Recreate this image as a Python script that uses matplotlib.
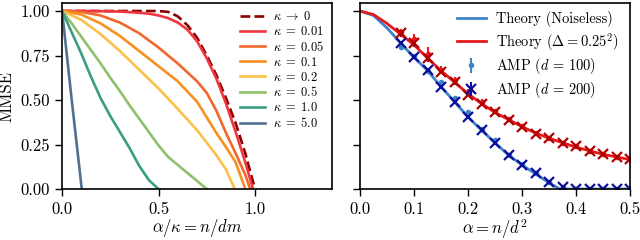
import numpy as np
import matplotlib
matplotlib.use('Agg')
import matplotlib.pyplot as plt

plt.rcParams['font.family'] = 'serif'
plt.rcParams['font.serif'] = ['cmr10']
plt.rcParams['mathtext.fontset'] = 'cm'
plt.rcParams['axes.formatter.use_mathtext'] = True
plt.rcParams['axes.unicode_minus'] = False

# left panel: MMSE vs alpha/kappa for several kappa
x_k0 = [0, 0.5, 0.55, 0.6, 0.65, 0.7, 0.75, 0.8, 0.85, 0.9, 0.95, 1.0]
y_k0 = [1, 1, 0.995, 0.97, 0.92, 0.85, 0.75, 0.64, 0.51, 0.37, 0.2, 0]

x_k001 = [0, 0.1, 0.2, 0.3, 0.4, 0.45, 0.5, 0.55, 0.6, 0.65, 0.7, 0.75, 0.8, 0.85, 0.9, 0.95, 0.99]
y_k001 = [1, 1.0, 0.999, 0.997, 0.99, 0.985, 0.975, 0.96, 0.935, 0.895, 0.83, 0.735, 0.62, 0.48, 0.32, 0.15, 0]

x_k005 = [0, 0.1, 0.2, 0.3, 0.4, 0.5, 0.6, 0.7, 0.75, 0.8, 0.85, 0.9, 0.95, 0.975]
y_k005 = [1, 0.995, 0.975, 0.935, 0.875, 0.795, 0.705, 0.605, 0.54, 0.44, 0.315, 0.2, 0.08, 0]

x_k01 = [0, 0.1, 0.2, 0.3, 0.4, 0.5, 0.6, 0.7, 0.8, 0.85, 0.9, 0.95]
y_k01 = [1, 0.98, 0.93, 0.86, 0.775, 0.69, 0.605, 0.49, 0.315, 0.235, 0.15, 0]

x_k02 = [0, 0.1, 0.2, 0.3, 0.4, 0.5, 0.6, 0.7, 0.8, 0.85, 0.895]
y_k02 = [1, 0.95, 0.87, 0.775, 0.67, 0.565, 0.45, 0.33, 0.19, 0.11, 0]

x_k05 = [0, 0.05, 0.1, 0.15, 0.2, 0.25, 0.3, 0.35, 0.4, 0.45, 0.5, 0.55, 0.6, 0.65, 0.7, 0.75]
y_k05 = [1, 0.93, 0.855, 0.78, 0.705, 0.625, 0.55, 0.47, 0.395, 0.32, 0.245, 0.18, 0.135, 0.09, 0.045, 0]

x_k1 = [0, 0.05, 0.1, 0.15, 0.2, 0.25, 0.3, 0.35, 0.4, 0.45, 0.5]
y_k1 = [1, 0.88, 0.76, 0.63, 0.51, 0.41, 0.32, 0.23, 0.13, 0.05, 0]

x_k5 = [0, 0.05, 0.102]
y_k5 = [1, 0.5, 0]

curves = [
    (x_k0, y_k0, r'$\kappa \;\to\; 0$', '#8b0000', '--'),
    (x_k001, y_k001, r'$\kappa \;=\; 0.01$', '#f0363e', '-'),
    (x_k005, y_k005, r'$\kappa \;=\; 0.05$', '#f2682c', '-'),
    (x_k01, y_k01, r'$\kappa \;=\; 0.1$', '#f7901e', '-'),
    (x_k02, y_k02, r'$\kappa \;=\; 0.2$', '#fcc048', '-'),
    (x_k05, y_k05, r'$\kappa \;=\; 0.5$', '#8fc06c', '-'),
    (x_k1, y_k1, r'$\kappa \;=\; 1.0$', '#3a9e84', '-'),
    (x_k5, y_k5, r'$\kappa \;=\; 5.0$', '#51708f', '-'),
]

# right panel: theory and AMP
alpha_th = [0, 0.025, 0.05, 0.075, 0.1, 0.125, 0.15, 0.175, 0.2, 0.225, 0.25, 0.275, 0.3, 0.325, 0.35, 0.37, 0.4, 0.45, 0.5]
mmse_noiseless = [1, 0.975, 0.905, 0.82, 0.74, 0.665, 0.575, 0.49, 0.405, 0.33, 0.26, 0.19, 0.135, 0.085, 0.035, 0, 0, 0, 0]
alpha_th_n = [0, 0.025, 0.05, 0.075, 0.1, 0.125, 0.15, 0.175, 0.2, 0.225, 0.25, 0.275, 0.3, 0.325, 0.35, 0.375, 0.4, 0.425, 0.45, 0.475, 0.5]
mmse_noisy = [1, 0.98, 0.93, 0.87, 0.81, 0.735, 0.665, 0.6, 0.535, 0.48, 0.43, 0.39, 0.35, 0.315, 0.285, 0.26, 0.235, 0.215, 0.195, 0.18, 0.165]

alpha_amp = [0.075, 0.1, 0.125, 0.15, 0.175, 0.2, 0.225, 0.25, 0.275, 0.3, 0.325, 0.35, 0.375, 0.4, 0.425, 0.45, 0.475, 0.5]
amp100_clean = [0.8, 0.745, 0.665, 0.6, 0.51, 0.43, 0.335, 0.275, 0.19, 0.14, 0.09, 0.04, 0.01, 0.0, 0.0, 0.0, 0.0, 0.0]
amp100_clean_err = [0.015, 0.015, 0.015, 0.015, 0.015, 0.01, 0.01, 0.01, 0.01, 0.01, 0.01, 0.01, 0.005, 0.003, 0.003, 0.003, 0.003, 0.003]
amp200_clean = [0.82, 0.74, 0.67, 0.575, 0.49, 0.405, 0.33, 0.26, 0.19, 0.135, 0.09, 0.04, 0.01, 0.0, 0.0, 0.0, 0.0, 0.0]
amp200_clean_err = [0.01, 0.01, 0.01, 0.01, 0.01, 0.008, 0.008, 0.008, 0.008, 0.008, 0.005, 0.005, 0.004, 0.003, 0.003, 0.003, 0.003, 0.003]
amp100_noisy = [0.88, 0.84, 0.76, 0.67, 0.61, 0.545, 0.49, 0.44, 0.395, 0.355, 0.315, 0.285, 0.26, 0.24, 0.215, 0.195, 0.18, 0.17]
amp100_noisy_err = [0.02, 0.03, 0.04, 0.02, 0.02, 0.015, 0.015, 0.01, 0.01, 0.01, 0.01, 0.01, 0.01, 0.01, 0.01, 0.01, 0.01, 0.01]
amp200_noisy = [0.875, 0.82, 0.735, 0.66, 0.6, 0.53, 0.48, 0.43, 0.39, 0.35, 0.31, 0.285, 0.26, 0.24, 0.215, 0.195, 0.18, 0.17]
amp200_noisy_err = [0.02, 0.02, 0.02, 0.015, 0.015, 0.015, 0.01, 0.01, 0.01, 0.01, 0.01, 0.01, 0.01, 0.01, 0.01, 0.01, 0.01, 0.01]

fig = plt.figure(figsize=(6.4, 2.4), dpi=100)
ax1 = fig.add_axes([0.097, 0.2125, 0.4219, 0.775])
ax2 = fig.add_axes([0.5625, 0.2125, 0.4219, 0.775], sharey=ax1)

for xs, ys, lab, col, ls in curves:
    ax1.plot(xs, ys, ls, color=col, lw=1.9, label=lab)
ax1.set_xlim(0, 1.4)
ax1.set_ylim(0, 1.045)
ax1.set_xticks([0, 0.5, 1.0])
ax1.set_xticklabels(['0.0', '0.5', '1.0'])
ax1.set_yticks([0, 0.25, 0.5, 0.75, 1.0])
ax1.set_yticklabels(['0.00', '0.25', '0.50', '0.75', '1.00'])
ax1.set_xlabel(r'$\alpha/\kappa = n/dm$', fontsize=12, labelpad=0)
ax1.set_ylabel('MMSE', fontsize=12)
ax1.legend(loc='upper left', bbox_to_anchor=(0.659, 0.962), frameon=False, fontsize=9,
           handlelength=2.0, handletextpad=0.6, labelspacing=0.15,
           borderpad=0, borderaxespad=0)

c_blue = '#3c83c8'
c_navy = '#0d0d9c'
c_red = '#e8181c'
c_dred = '#b00000'
ax2.plot(alpha_th, mmse_noiseless, color=c_blue, lw=2, label='Theory (Noiseless)')
ax2.plot(alpha_th_n, mmse_noisy, color=c_red, lw=2, label=r'Theory ($\Delta = 0.25^2$)')
ax2.errorbar(alpha_amp, amp100_clean, yerr=amp100_clean_err, fmt='o', ms=3,
             color=c_blue, elinewidth=1.5, label=r'AMP ($d\, =\, 100$)')
ax2.errorbar(alpha_amp, amp200_clean, yerr=amp200_clean_err, fmt='x', ms=7, mew=1.6,
             color=c_navy, elinewidth=1.5, label=r'AMP ($d\, =\, 200$)')
ax2.errorbar(alpha_amp, amp100_noisy, yerr=amp100_noisy_err, fmt='o', ms=3,
             color=c_red, elinewidth=1.5)
ax2.errorbar(alpha_amp, amp200_noisy, yerr=amp200_noisy_err, fmt='x', ms=7, mew=1.6,
             color=c_dred, elinewidth=1.5)
ax2.set_xlim(0, 0.5)
ax2.set_xticks([0, 0.1, 0.2, 0.3, 0.4, 0.5])
ax2.set_xticklabels(['0.0', '0.1', '0.2', '0.3', '0.4', '0.5'])
ax2.tick_params(labelleft=False)
ax2.set_xlabel(r'$\alpha = n/d^2$', fontsize=12, labelpad=0)
ax2.legend(loc='upper left', bbox_to_anchor=(0.358, 0.955), frameon=False, fontsize=10.4,
           handlelength=2.0, handletextpad=0.7, labelspacing=0.25,
           borderpad=0, borderaxespad=0)

for ax in (ax1, ax2):
    ax.tick_params(labelsize=12, direction='out', length=5, width=1, pad=4)
    for s in ax.spines.values():
        s.set_linewidth(1.2)

fig.savefig('out.png', dpi=100)
